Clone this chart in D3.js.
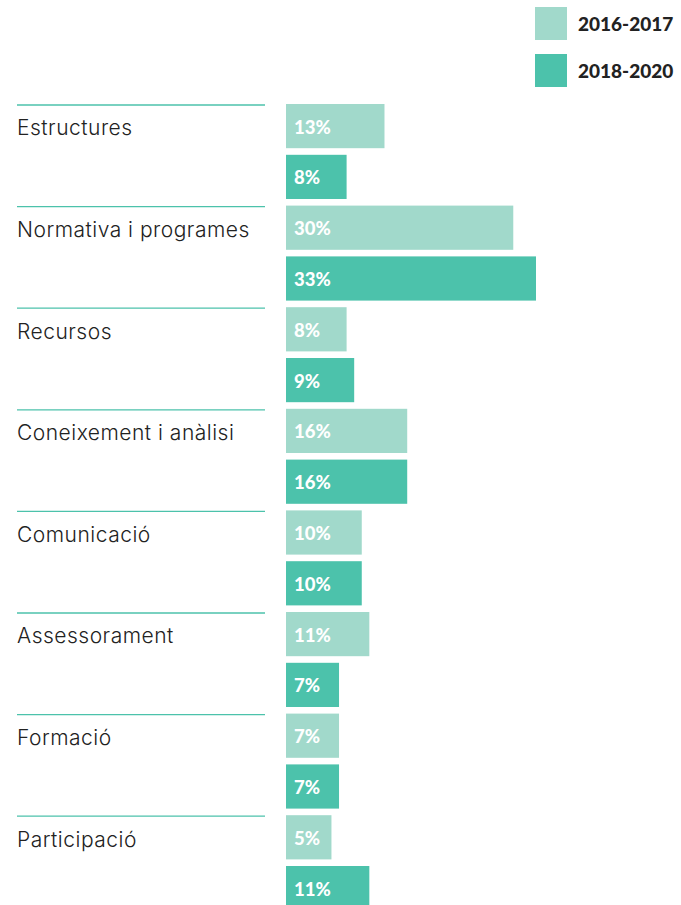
<!DOCTYPE html>
<html><head><meta charset="utf-8">
<script src="https://cdn.jsdelivr.net/npm/d3@7"></script>
<style>body{margin:0;background:#fff}</style>
</head><body>
<script>
const categories = ["Estructures","Normativa i programes","Recursos","Coneixement i anàlisi","Comunicació","Assessorament","Formació","Participació"];
const series = ["2016-2017","2018-2020"];
const values2016 = [13,30,8,16,10,11,7,6];
const values2018 = [8,33,9,16,10,7,7,11];
const labels2016 = ["13%","30%","8%","16%","10%","11%","7%","5%"];
const labels2018 = ["8%","33%","9%","16%","10%","7%","7%","11%"];
const colors = ["#a1d9cb","#4cc2ab"];

const W = 681, H = 905;
const svg = d3.select("body").append("svg").attr("width",W).attr("height",H);

const data = categories.map((c,i)=>({cat:c, vals:[values2016[i], values2018[i]], labs:[labels2016[i], labels2018[i]]}));

const y0 = d3.scaleBand().domain(categories).range([104, 104 + 8*101.6]).paddingInner(0).paddingOuter(0);
const y1 = d3.scaleBand().domain(series).range([0, y0.bandwidth()]).paddingInner(0.13).paddingOuter(0.065).align(0);
const x = d3.scaleLinear().domain([0,33]).range([286, 536]);

const g = svg.selectAll("g.grp").data(data).join("g").attr("class","grp")
  .attr("transform", d=>`translate(0,${y0(d.cat)})`);

g.append("line").attr("x1",17).attr("x2",265).attr("y1",1).attr("y2",1)
  .attr("stroke","#4cc2ab").attr("stroke-width",1.3);

g.append("text").attr("x",17).attr("y", y1(series[0]) + y1.bandwidth()/2 + 2)
  .attr("dy","0.35em")
  .attr("font-family","Inter, sans-serif").attr("font-size",21).attr("font-weight",300).attr("fill","#222")
  .attr("letter-spacing",0.5)
  .text(d=>d.cat);

const bars = g.selectAll("g.bar").data(d=>d.vals.map((v,i)=>({v, lab:d.labs[i], s:series[i], i})))
  .join("g").attr("class","bar");
bars.append("rect").attr("x",x(0)).attr("y",d=>y1(d.s))
  .attr("width",d=>x(d.v)-x(0)).attr("height",y1.bandwidth())
  .attr("fill",d=>colors[d.i]);
bars.append("text").attr("x",x(0)+8).attr("y",d=>y1(d.s)+y1.bandwidth()/2+1)
  .attr("dy","0.35em").attr("fill","#fff")
  .attr("font-family","Lato, sans-serif").attr("font-weight",900).attr("font-size",18.5)
  .text(d=>d.lab);

// legend
const leg = svg.selectAll("g.leg").data(series).join("g").attr("class","leg")
  .attr("transform",(d,i)=>`translate(535,${7+i*47})`);
leg.append("rect").attr("width",32).attr("height",33).attr("fill",(d,i)=>colors[i]);
leg.append("text").attr("x",43).attr("y",17).attr("dy","0.35em")
  .attr("font-family","Lato, sans-serif").attr("font-weight",900).attr("font-size",19).attr("fill","#222")
  .text(d=>d);
</script>
</body></html>
